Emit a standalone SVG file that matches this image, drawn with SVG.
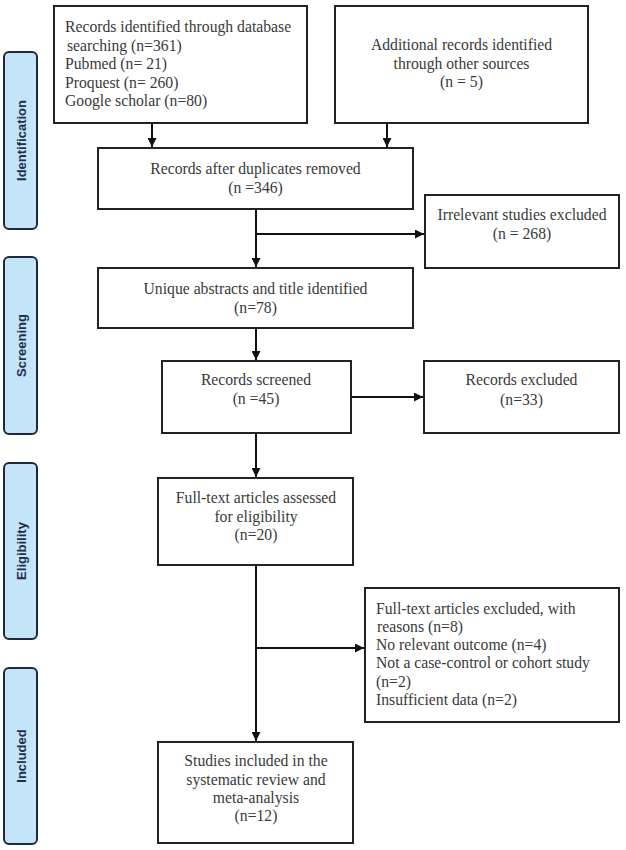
<svg xmlns="http://www.w3.org/2000/svg" width="626" height="850" viewBox="0 0 626 850">
<style>
.box{fill:#fff;stroke:#222;stroke-width:2}
.t{font-family:"Liberation Serif","Times New Roman",serif;font-size:15.7px;fill:#3a3a3a}
.c{text-anchor:middle}
.phase{fill:#c4e4f7;stroke:#1e2a3a;stroke-width:2}
.pt{font-family:"Liberation Sans",Arial,sans-serif;font-size:13px;font-weight:bold;fill:#1f2f4f;text-anchor:middle}
.ln{fill:none;stroke:#111;stroke-width:2}
</style>
<defs>
<marker id="ah" viewBox="0 0 10 10" refX="10" refY="5" markerWidth="4.5" markerHeight="4.5" orient="auto" markerUnits="strokeWidth">
<path d="M0,0 L10,5 L0,10 z" fill="#111"/>
</marker>
</defs>
<rect width="626" height="850" fill="#fff"/>
<g id="phase-identification"><rect class="phase" x="4" y="52" width="33" height="177" rx="5"/><text class="pt" transform="translate(25.5,140.5) rotate(-90)">Identification</text></g>
<g id="phase-screening"><rect class="phase" x="4" y="257" width="33" height="177" rx="5"/><text class="pt" transform="translate(25.5,345.5) rotate(-90)">Screening</text></g>
<g id="phase-eligibility"><rect class="phase" x="4" y="463" width="33" height="176" rx="5"/><text class="pt" transform="translate(25.5,551) rotate(-90)">Eligibility</text></g>
<g id="phase-included"><rect class="phase" x="4" y="668" width="33" height="176" rx="5"/><text class="pt" transform="translate(25.5,756) rotate(-90)">Included</text></g>

<g id="n-database"><rect class="box" x="54" y="6" width="253" height="117"/>
<text class="t" x="65" y="32">Records identified through database</text>
<text class="t" x="67" y="50.5">searching (n=361)</text>
<text class="t" x="65" y="69">Pubmed (n= 21)</text>
<text class="t" x="65" y="87.5">Proquest (n= 260)</text>
<text class="t" x="65" y="106">Google scholar (n=80)</text></g>
<g id="n-additional"><rect class="box" x="335" y="6" width="253" height="117"/>
<text class="t c" x="461.5" y="50">Additional records identified</text>
<text class="t c" x="461.5" y="68.5">through other sources</text>
<text class="t c" x="461.5" y="87">(n = 5)</text></g>
<g id="n-duplicates"><rect class="box" x="98" y="148" width="315" height="61"/>
<text class="t c" x="255.5" y="174">Records after duplicates removed</text>
<text class="t c" x="255.5" y="193">(n =346)</text></g>
<g id="n-irrelevant"><rect class="box" x="425" y="195" width="194" height="73"/>
<text class="t c" x="522" y="220">Irrelevant studies excluded</text>
<text class="t c" x="522" y="239">(n = 268)</text></g>
<g id="n-unique"><rect class="box" x="98" y="268" width="315" height="60"/>
<text class="t c" x="255.5" y="294">Unique abstracts and title identified</text>
<text class="t c" x="255.5" y="313">(n=78)</text></g>
<g id="n-screened"><rect class="box" x="162" y="361" width="189" height="72"/>
<text class="t c" x="256" y="385">Records screened</text>
<text class="t c" x="256" y="404">(n =45)</text></g>
<g id="n-excluded"><rect class="box" x="424" y="361" width="195" height="72"/>
<text class="t c" x="521.5" y="385">Records excluded</text>
<text class="t c" x="521.5" y="405">(n=33)</text></g>
<g id="n-fulltext"><rect class="box" x="158" y="478" width="195" height="87"/>
<text class="t c" x="256" y="503">Full-text articles assessed</text>
<text class="t c" x="256" y="521.5">for eligibility</text>
<text class="t c" x="256" y="539.5">(n=20)</text></g>
<g id="n-ftexcluded"><rect class="box" x="365" y="588" width="254" height="134"/>
<text class="t" x="376" y="614">Full-text articles excluded, with</text>
<text class="t" x="377" y="632">reasons (n=8)</text>
<text class="t" x="376" y="650">No relevant outcome (n=4)</text>
<text class="t" x="376" y="668">Not a case-control or cohort study</text>
<text class="t" x="376" y="686.5">(n=2)</text>
<text class="t" x="376" y="705">Insufficient data (n=2)</text></g>
<g id="n-included"><rect class="box" x="158" y="742" width="195" height="101"/>
<text class="t c" x="256" y="766">Studies included in the</text>
<text class="t c" x="256" y="784.5">systematic review and</text>
<text class="t c" x="256" y="803">meta-analysis</text>
<text class="t c" x="256" y="821">(n=12)</text></g>

<g id="connectors">
<path class="ln" d="M152,123 V147" marker-end="url(#ah)"/>
<path class="ln" d="M387,123 V147" marker-end="url(#ah)"/>
<path class="ln" d="M256,209 V267" marker-end="url(#ah)"/>
<path class="ln" d="M256,234 H424" marker-end="url(#ah)"/>
<path class="ln" d="M256,328 V360" marker-end="url(#ah)"/>
<path class="ln" d="M351,397 H423" marker-end="url(#ah)"/>
<path class="ln" d="M256,433 V477" marker-end="url(#ah)"/>
<path class="ln" d="M256,565 V741" marker-end="url(#ah)"/>
<path class="ln" d="M256,648 H364" marker-end="url(#ah)"/>
</g>
</svg>
